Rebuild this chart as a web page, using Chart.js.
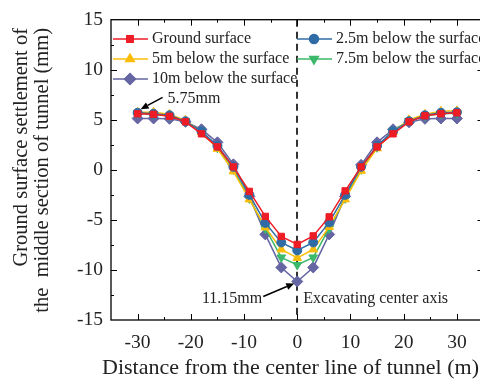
<!DOCTYPE html>
<html>
<head>
<meta charset="utf-8">
<script src="https://cdn.jsdelivr.net/npm/chart.js@4/dist/chart.umd.min.js"></script>
<style>
html,body{margin:0;padding:0;background:#fff;overflow:hidden;width:480px;height:381px;}
#wrap{width:490px;height:381px;}
</style>
</head>
<body>
<div id="wrap"><canvas id="c" width="490" height="381"></canvas></div>
<script>
const distances = [-30,-27,-24,-21,-18,-15,-12,-9,-6,-3,0,3,6,9,12,15,18,21,24,27,30];
const seriesNames = ['Ground surface','2.5m below the surface','5m below the surface','7.5m below the surface','10m below the surface'];
const groundSurface = [5.6,5.55,5.35,4.8,3.6,2.3,0.3,-2.15,-4.65,-6.65,-7.45,-6.6,-4.7,-2.1,0.3,2.3,3.6,4.8,5.4,5.6,5.7];
const below2_5m = [5.7,5.6,5.45,4.85,3.85,2.4,0.3,-2.5,-5.3,-7.25,-8.05,-7.25,-5.25,-2.5,0.3,2.4,3.85,4.85,5.45,5.7,5.75];
const below5m = [5.75,5.75,5.55,4.95,3.8,2.1,-0.15,-2.95,-5.75,-7.95,-8.8,-7.95,-5.7,-2.95,-0.1,2.15,3.8,5.0,5.55,5.85,5.9];
const below7_5m = [5.65,5.55,5.4,4.85,3.85,2.2,0.05,-2.85,-5.85,-8.75,-9.5,-8.75,-5.85,-2.85,0.05,2.25,3.9,4.9,5.4,5.6,5.65];
const below10m = [5.13,5.13,5.1,4.8,4.05,2.75,0.55,-2.65,-6.45,-9.75,-11.15,-9.75,-6.45,-2.65,0.5,2.75,4.05,4.75,5.1,5.13,5.13];
const xTickValues = [-30,-20,-10,0,10,20,30];
const yTickValues = [-15,-10,-5,0,5,10,15];
const xTitle = 'Distance from the center line of tunnel (m)';
const yTitleLines = ['Ground surface settlement of','the  middle section of tunnel (mm)'];
const annotations = [
  {text:'5.75mm', x:-30, y:5.75},
  {text:'11.15mm', x:0, y:-11.15}
];
const axisNote = 'Excavating center axis';

const colors = ['#ee1c25','#2f6ca6','#fbbd0a','#3cb96a','#6565a3'];
const shapes = ['rect','circle','triangle','triangle','rectRot'];
const rotations = [0,0,0,180,0];
const radii = [4.5,4.5,5,5,5.5];
const allData = [groundSurface,below2_5m,below5m,below7_5m,below10m];

const datasets = allData.map((arr,i)=>({
  label: seriesNames[i],
  data: arr.map((v,j)=>({x:distances[j], y:v})),
  borderColor: colors[i],
  backgroundColor: colors[i],
  pointBackgroundColor: colors[i],
  pointBorderColor: colors[i],
  pointStyle: shapes[i],
  rotation: rotations[i],
  pointRadius: radii[i],
  pointBorderWidth: 1,
  borderWidth: 1.5,
  tension: 0
}));

const SERIF = "'Liberation Serif','Times New Roman',serif";

const decor = {
  id:'decor',
  beforeDatasetsDraw(chart){
    const {ctx, chartArea:a, scales:{x,y}} = chart;
    ctx.save();
    ctx.strokeStyle = '#000';
    ctx.lineWidth = 1.6;
    ctx.setLineDash([7,5]);
    const x0 = Math.round(x.getPixelForValue(0));
    ctx.beginPath(); ctx.moveTo(x0, a.top); ctx.lineTo(x0, a.bottom); ctx.stroke();
    ctx.restore();
  },
  afterDatasetsDraw(chart){
    const {ctx, chartArea:a, scales:{x,y}} = chart;
    ctx.save();
    // frame
    ctx.strokeStyle='#000'; ctx.lineWidth=1.3; ctx.setLineDash([]);
    ctx.strokeRect(a.left, a.top, a.right-a.left, a.bottom-a.top);
    // ticks
    ctx.lineWidth=1;
    ctx.beginPath();
    for(let v=-35; v<=35; v+=5){
      const px = Math.round(x.getPixelForValue(v))+0.5;
      const major = v%10===0;
      const L = major?6:3;
      if(v===-35||v===35) continue;
      ctx.moveTo(px,a.bottom); ctx.lineTo(px,a.bottom-L);
      ctx.moveTo(px,a.top); ctx.lineTo(px,a.top+L);
    }
    for(let v=-15; v<=15; v+=2.5){
      const py = Math.round(y.getPixelForValue(v))+0.5;
      const major = v%5===0;
      const L = major?6:3;
      if(v===-15||v===15) continue;
      ctx.moveTo(a.left,py); ctx.lineTo(a.left+L,py);
      ctx.moveTo(a.right,py); ctx.lineTo(a.right-L,py);
    }
    ctx.stroke();

    // legend (two columns)
    ctx.font = '16px '+SERIF;
    ctx.textBaseline='middle'; ctx.textAlign='left';
    const slots = [[113,39],[297,39],[113,59],[297,59],[113,79]];
    chart.data.datasets.forEach((ds,k)=>{
      const [lx,ly] = slots[k];
      ctx.strokeStyle = ds.borderColor; ctx.lineWidth=1.5;
      ctx.beginPath(); ctx.moveTo(lx,ly); ctx.lineTo(lx+35,ly); ctx.stroke();
      ctx.fillStyle = ds.backgroundColor;
      Chart.helpers.drawPoint(ctx,{pointStyle:ds.pointStyle, rotation:ds.rotation, radius:ds.pointRadius, borderWidth:1}, lx+17, ly);
      ctx.fillStyle='#222';
      ctx.fillText(ds.label, lx+39, ly);
    });

    // annotations
    ctx.fillStyle='#222';
    ctx.font='16px '+SERIF;
    const p1x = x.getPixelForValue(annotations[0].x), p1y = y.getPixelForValue(annotations[0].y);
    ctx.textAlign='left';
    ctx.fillText(annotations[0].text, p1x+30, p1y-13);
    arrow(ctx, p1x+25, p1y-15, p1x+3, p1y-3);
    const p2x = x.getPixelForValue(annotations[1].x), p2y = y.getPixelForValue(annotations[1].y);
    ctx.textAlign='right';
    ctx.fillText(annotations[1].text, p2x-35, p2y+17);
    arrow(ctx, p2x-34, p2y+15, p2x-3, p2y+2);
    ctx.textAlign='left';
    ctx.fillText(axisNote, p2x+6, p2y+17);
    ctx.restore();
  },
  afterDraw(chart){
    const {ctx} = chart;
    ctx.save();
    ctx.fillStyle='#222';
    ctx.textBaseline='middle';
    // x title
    ctx.font='22px '+SERIF;
    ctx.textAlign='center';
    ctx.fillText(xTitle, 290.5, 368);
    // y title (rotated, two lines, ending near top)
    ctx.font='20.5px '+SERIF;
    ctx.rotate(-Math.PI/2);
    ctx.textAlign='right';
    ctx.fillText(yTitleLines[0], -28, 22);
    ctx.fillText(yTitleLines[1], -28, 43);
    ctx.restore();
  }
};
function arrow(ctx,x1,y1,x2,y2){
  ctx.save();
  ctx.strokeStyle='#000'; ctx.fillStyle='#000'; ctx.lineWidth=1.5;
  const ang=Math.atan2(y2-y1,x2-x1);
  const hl=8, hw=3.5;
  const bx=x2-hl*Math.cos(ang), by=y2-hl*Math.sin(ang);
  ctx.beginPath(); ctx.moveTo(x1,y1); ctx.lineTo(bx,by); ctx.stroke();
  ctx.beginPath();
  ctx.moveTo(x2,y2);
  ctx.lineTo(bx+hw*Math.sin(ang), by-hw*Math.cos(ang));
  ctx.lineTo(bx-hw*Math.sin(ang), by+hw*Math.cos(ang));
  ctx.closePath(); ctx.fill();
  ctx.restore();
}

new Chart(document.getElementById('c'),{
  type:'line',
  data:{datasets},
  options:{
    responsive:false,
    devicePixelRatio:1,
    animation:false,
    layout:{padding:{left:0,top:17,right:6,bottom:0}},
    plugins:{legend:{display:false},tooltip:{enabled:false}},
    scales:{
      x:{
        type:'linear', min:-35, max:35,
        afterFit(s){ s.height = 61; },
        afterBuildTicks(s){ s.ticks = xTickValues.map(v=>({value:v})); },
        grid:{display:false, drawTicks:false},
        border:{display:false},
        ticks:{color:'#222', padding:11, maxRotation:0, autoSkip:false, font:{family:SERIF,size:19.5}},
        title:{display:false}
      },
      y:{
        type:'linear', min:-15, max:15,
        afterFit(s){ s.width = 111; },
        afterBuildTicks(s){ s.ticks = yTickValues.map(v=>({value:v})); },
        grid:{display:false, drawTicks:false},
        border:{display:false},
        ticks:{color:'#222', padding:8, autoSkip:false, font:{family:SERIF,size:19.5}},
        title:{display:false}
      }
    }
  },
  plugins:[decor]
});
</script>
</body>
</html>
